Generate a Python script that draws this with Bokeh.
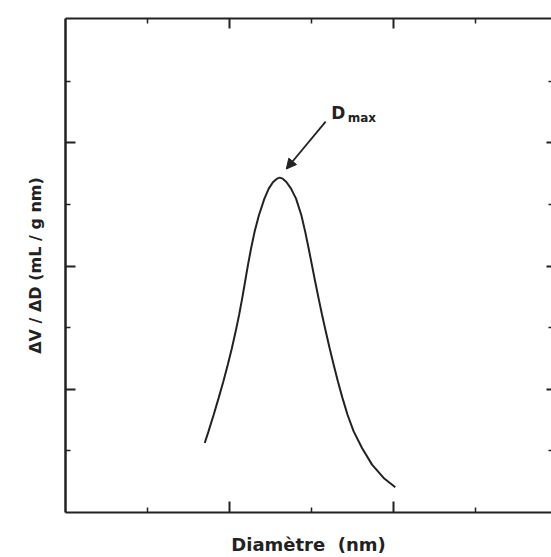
from bokeh.plotting import figure
from bokeh.models import FixedTicker, LinearAxis, Range1d, Arrow, NormalHead, Label
from bokeh.embed import file_html
from bokeh.resources import INLINE

# Pore-size distribution (arbitrary units, no tick labels on the axes)
diameter = [1.699, 1.745, 1.808, 1.868, 1.926, 1.980, 2.030, 2.076, 2.118, 2.156,
            2.191, 2.226, 2.264, 2.307, 2.360, 2.427, 2.480, 2.533, 2.581, 2.614,
            2.650, 2.695, 2.752, 2.813, 2.878, 2.925, 2.967, 3.007, 3.047, 3.088,
            3.131, 3.176, 3.223, 3.272, 3.324, 3.380, 3.441, 3.516, 3.618, 3.740,
            3.882, 4.024]
dv_dd = [1.128, 1.317, 1.587, 1.857, 2.127, 2.397, 2.667, 2.937, 3.206, 3.476,
         3.746, 4.016, 4.286, 4.556, 4.826, 5.096, 5.258, 5.366, 5.420, 5.436,
         5.420, 5.366, 5.258, 5.096, 4.826, 4.556, 4.286, 4.016, 3.746, 3.476,
         3.206, 2.937, 2.667, 2.397, 2.127, 1.857, 1.587, 1.317, 1.047, 0.777,
         0.561, 0.410]

x_major = [2, 4, 6]
x_minor = [1, 3, 5]
y_major = [2, 4, 6]
y_minor = [1, 3, 5, 7]

INK = "#222222"
FONT = "DejaVu Sans"

p = figure(width=551, height=557, output_backend="svg", toolbar_location=None,
           x_range=Range1d(0, 5.93), y_range=Range1d(0, 8.02),
           x_axis_location=None, y_axis_location=None,
           min_border_left=65, min_border_right=0, min_border_top=18,
           min_border_bottom=44)
p.outline_line_color = None
p.grid.visible = False
p.background_fill_color = "white"
p.border_fill_color = "white"


def make_axis(major, minor, line_color, width, label="", tick_in=10, minor_in=5):
    ax = LinearAxis(ticker=FixedTicker(ticks=major, minor_ticks=minor))
    ax.axis_line_color = line_color
    ax.axis_line_width = width
    ax.major_tick_in = tick_in
    ax.major_tick_out = 0
    ax.minor_tick_in = minor_in
    ax.minor_tick_out = 0
    ax.major_tick_line_color = INK
    ax.major_tick_line_width = 2
    ax.minor_tick_line_color = INK
    ax.minor_tick_line_width = 1.5
    # ticks carry no numbers
    ax.major_label_text_color = None
    ax.major_label_text_font_size = "1px"
    ax.major_label_standoff = 0
    ax.axis_label = label
    ax.axis_label_text_font = FONT
    ax.axis_label_text_font_style = "bold"
    ax.axis_label_text_color = INK
    return ax


bottom = make_axis(x_major, x_minor, INK, 2, "Diamètre\u00a0 (nm)", 11, 5)
bottom.axis_label_text_font_size = "18px"
bottom.axis_label_standoff = 21
top = make_axis(x_major, x_minor, INK, 2, "", 10, 5)
left = make_axis(y_major, y_minor, INK, 2.5, "ΔV / ΔD (mL / g nm)", 10, 5)
left.axis_label_text_font_size = "16px"
left.axis_label_standoff = 21
right = make_axis(y_major, y_minor, None, 1, "", 5, 3)

p.add_layout(bottom, "below")
p.add_layout(top, "above")
p.add_layout(left, "left")
p.add_layout(right, "right")

p.line(diameter, dv_dd, line_color=INK, line_width=2)

# arrow pointing at the maximum of the distribution
i_max = dv_dd.index(max(dv_dd))
px, py = diameter[i_max], dv_dd[i_max]
p.add_layout(Arrow(end=NormalHead(size=10, fill_color=INK, line_color=INK),
                   x_start=px + 0.56, y_start=py + 0.91,
                   x_end=px + 0.08, y_end=py + 0.14,
                   line_color=INK, line_width=1.8))
p.add_layout(Label(x=px + 0.63, y=py + 1.05, text="D", text_font=FONT,
                   text_font_style="bold", text_font_size="17px",
                   text_color=INK, text_baseline="alphabetic"))
p.add_layout(Label(x=px + 0.83, y=py + 0.97, text="max", text_font=FONT,
                   text_font_style="bold", text_font_size="12px",
                   text_color=INK, text_baseline="alphabetic"))

open("out.html", "w").write(file_html(p, INLINE))
